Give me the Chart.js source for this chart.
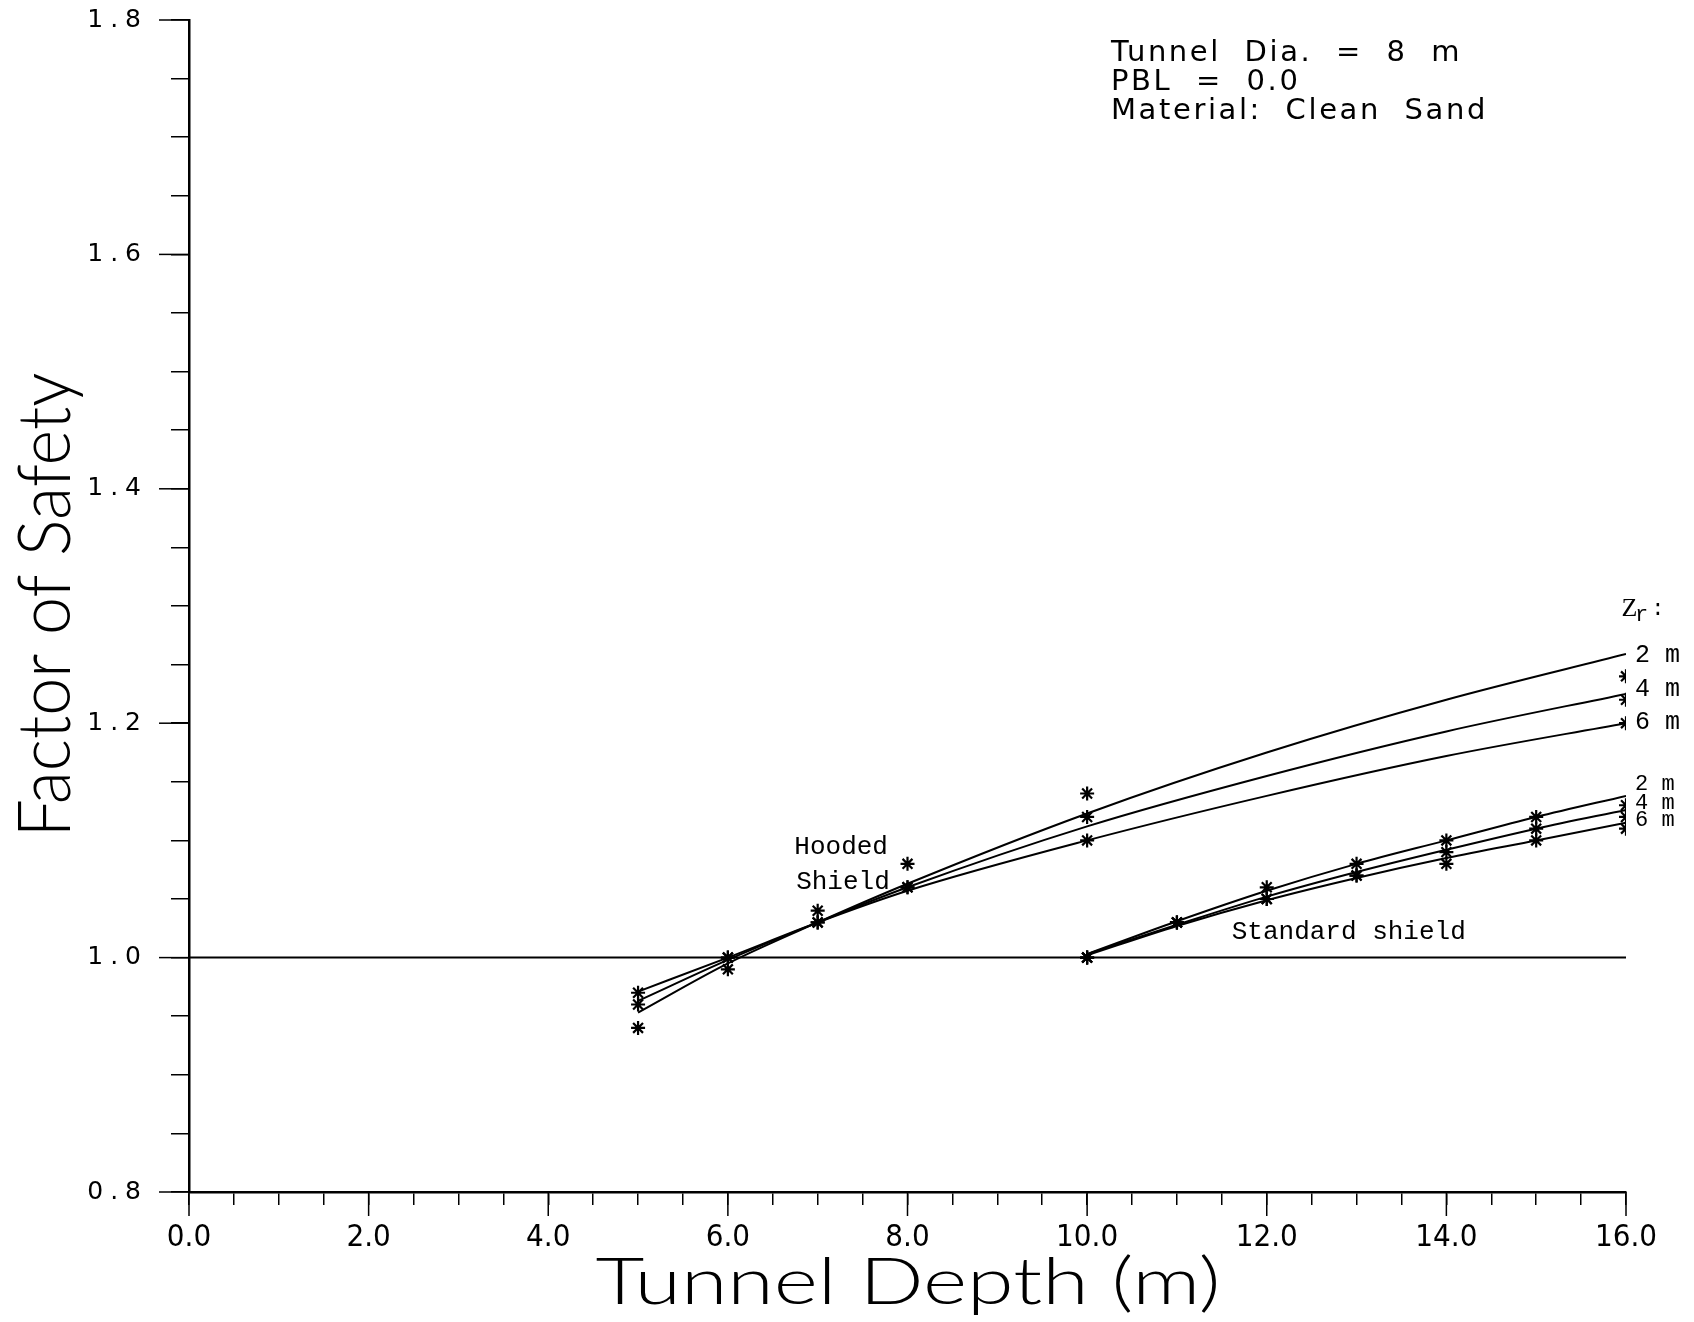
<!DOCTYPE html>
<html>
<head>
<meta charset="utf-8">
<script src="https://cdn.jsdelivr.net/npm/chart.js@4.4.0/dist/chart.umd.min.js"></script>
<style>
  body { margin: 0; background: #fff; }
</style>
</head>
<body>
<canvas id="miGrafico" width="1694" height="1322"></canvas>
<script>
// curvas ajustadas (hooded shield)
const hoodDepth = [5, 6, 7, 8, 10, 12, 14, 16];
const hood2 = [0.953, 0.995, 1.030, 1.063, 1.123, 1.175, 1.220, 1.259];
const hood4 = [0.963, 0.998, 1.030, 1.060, 1.112, 1.155, 1.193, 1.225];
const hood6 = [0.971, 1.000, 1.030, 1.057, 1.100, 1.138, 1.172, 1.200];
// puntos calculados (hooded shield)
const hoodPtDepth = [5, 6, 7, 8, 10, 16];
const hoodPt2 = [0.94, 0.99, 1.04, 1.08, 1.14, 1.24];
const hoodPt4 = [0.96, 1.00, 1.03, 1.06, 1.12, 1.22];
const hoodPt6 = [0.97, 1.00, 1.03, 1.06, 1.10, 1.20];
// standard shield
const stdDepth = [10, 11, 12, 13, 14, 15, 16];
const std2 = [1.003, 1.031, 1.057, 1.080, 1.100, 1.120, 1.138];
const std4 = [1.003, 1.028, 1.052, 1.073, 1.092, 1.110, 1.126];
const std6 = [1.002, 1.027, 1.049, 1.068, 1.085, 1.100, 1.115];
const stdPt2 = [1.00, 1.03, 1.06, 1.08, 1.10, 1.12, 1.13];
const stdPt4 = [1.00, 1.03, 1.05, 1.07, 1.09, 1.11, 1.12];
const stdPt6 = [1.00, 1.03, 1.05, 1.07, 1.08, 1.10, 1.11];
// linea FS = 1.0
const refDepth = [0, 16];
const refFS = [1.0, 1.0];

const xTicks = [0, 2, 4, 6, 8, 10, 12, 14, 16];
const yTicks = [0.8, 1.0, 1.2, 1.4, 1.6, 1.8];

function pts(xs, ys) {
    return xs.map(function (x, i) { return { x: x, y: ys[i] }; });
}
function curve(xs, ys) {
    return {
        data: pts(xs, ys), showLine: true, pointRadius: 0,
        borderColor: '#000', borderWidth: 2, cubicInterpolationMode: 'monotone'
    };
}
function stars(xs, ys) {
    return {
        data: pts(xs, ys), showLine: false, pointStyle: 'star', pointRadius: 7,
        pointBorderColor: '#000', pointBorderWidth: 2.2, pointBackgroundColor: '#000'
    };
}

const textos = {
    id: 'textos',
    afterDraw: function (chart) {
        const ctx = chart.ctx;
        const xs = chart.scales.x, ys = chart.scales.y;
        const area = chart.chartArea;
        ctx.save();
        ctx.fillStyle = '#000';
        ctx.strokeStyle = '#000';

        // ticks mayores mas largos
        ctx.lineWidth = 1.5;
        xTicks.forEach(function (v) {
            const px = xs.getPixelForValue(v);
            ctx.beginPath(); ctx.moveTo(px, area.bottom); ctx.lineTo(px, area.bottom + 24); ctx.stroke();
        });
        yTicks.forEach(function (v) {
            const py = ys.getPixelForValue(v);
            ctx.beginPath(); ctx.moveTo(area.left - 30, py); ctx.lineTo(area.left, py); ctx.stroke();
        });

        // etiquetas del eje y (espaciadas)
        ctx.font = '25px "DejaVu Sans"';
        ctx.letterSpacing = '7px';
        ctx.textAlign = 'right';
        ctx.textBaseline = 'middle';
        yTicks.forEach(function (v) {
            ctx.fillText(v.toFixed(1), 148, ys.getPixelForValue(v));
        });
        ctx.letterSpacing = '0px';

        // titulos de ejes (fuente estrecha)
        function fitText(txt, cx, cy, w, font, rot) {
            ctx.save();
            ctx.translate(cx, cy);
            ctx.rotate(rot);
            ctx.font = font;
            const m = ctx.measureText(txt).width;
            ctx.scale(w / m, 1);
            ctx.textAlign = 'center';
            ctx.textBaseline = 'alphabetic';
            ctx.fillText(txt, 0, 0);
            ctx.restore();
        }
        fitText('Factor of Safety', 70, 605, 465, '300 72px Lato', -Math.PI / 2);
        fitText('Tunnel Depth (m)', 908, 1304, 625, '300 66px Lato', 0);

        // cuadro de datos
        ctx.textAlign = 'left';
        ctx.textBaseline = 'alphabetic';
        ctx.font = '29px "DejaVu Sans"';
        ctx.letterSpacing = '2.6px';
        ctx.fillText('Tunnel  Dia.  =  8  m', 1111, 61);
        ctx.fillText('PBL  =  0.0', 1111, 90);
        ctx.fillText('Material:  Clean  Sand', 1111, 119);
        ctx.letterSpacing = '0px';

        // etiquetas dentro de la grafica
        ctx.font = '26px "Liberation Mono"';
        ctx.textBaseline = 'middle';
        ctx.fillText('Hooded', xs.getPixelForValue(6.74), ys.getPixelForValue(1.094));
        ctx.fillText('Shield', xs.getPixelForValue(6.76), ys.getPixelForValue(1.064));
        ctx.fillText('Standard shield', xs.getPixelForValue(11.61), ys.getPixelForValue(1.022));

        // Zr y espesores
        const lx = xs.getPixelForValue(16.1);
        ctx.font = '26px "Liberation Serif"';
        ctx.fillText('Z', xs.getPixelForValue(15.95), ys.getPixelForValue(1.297));
        ctx.font = '22px "Liberation Mono"';
        ctx.fillText('r', xs.getPixelForValue(16.1), ys.getPixelForValue(1.292));
        ctx.fillText(':', xs.getPixelForValue(16.28), ys.getPixelForValue(1.297));
        ctx.font = '25px "Liberation Mono"';
        [['2 m', 1.258], ['4 m', 1.229], ['6 m', 1.201]].forEach(function (t) {
            ctx.fillText(t[0], lx, ys.getPixelForValue(t[1]));
        });
        ctx.font = '22px "Liberation Mono"';
        [['2 m', 1.148], ['4 m', 1.132], ['6 m', 1.117]].forEach(function (t) {
            ctx.fillText(t[0], lx, ys.getPixelForValue(t[1]));
        });
        ctx.restore();
    }
};

var ctx = document.getElementById('miGrafico').getContext('2d');
var miGrafico = new Chart(ctx, {
    type: 'scatter',
    data: {
        datasets: [
            { data: pts(refDepth, refFS), showLine: true, pointRadius: 0, borderColor: '#000', borderWidth: 2 },
            curve(hoodDepth, hood2), curve(hoodDepth, hood4), curve(hoodDepth, hood6),
            stars(hoodPtDepth, hoodPt2), stars(hoodPtDepth, hoodPt4), stars(hoodPtDepth, hoodPt6),
            curve(stdDepth, std2), curve(stdDepth, std4), curve(stdDepth, std6),
            stars(stdDepth, stdPt2), stars(stdDepth, stdPt4), stars(stdDepth, stdPt6)
        ]
    },
    options: {
        responsive: false,
        animation: false,
        layout: { padding: { top: 20, right: 68, left: 0, bottom: 0 } },
        plugins: { legend: { display: false }, tooltip: { enabled: false } },
        scales: {
            x: {
                type: 'linear', min: 0, max: 16,
                ticks: {
                    stepSize: 0.5, autoSkip: false, maxRotation: 0, color: '#000', padding: 14,
                    font: { family: '"Liberation Sans Narrow", "DejaVu Sans Condensed", "Liberation Sans"', size: 31 },
                    callback: function (v) { return (v % 2 === 0) ? v.toFixed(1) : ''; }
                },
                grid: { drawOnChartArea: false, tickLength: 13, color: '#000', lineWidth: 1.5 },
                border: { color: '#000', width: 2.5 },
                afterFit: function (s) { s.height = 130; }
            },
            y: {
                min: 0.8, max: 1.8,
                ticks: { stepSize: 0.05, display: false },
                grid: { drawOnChartArea: false, tickLength: 18, color: '#000', lineWidth: 1.5 },
                border: { color: '#000', width: 2.5 },
                afterFit: function (s) { s.width = 189; }
            }
        }
    },
    plugins: [textos]
});
</script>
</body>
</html>
